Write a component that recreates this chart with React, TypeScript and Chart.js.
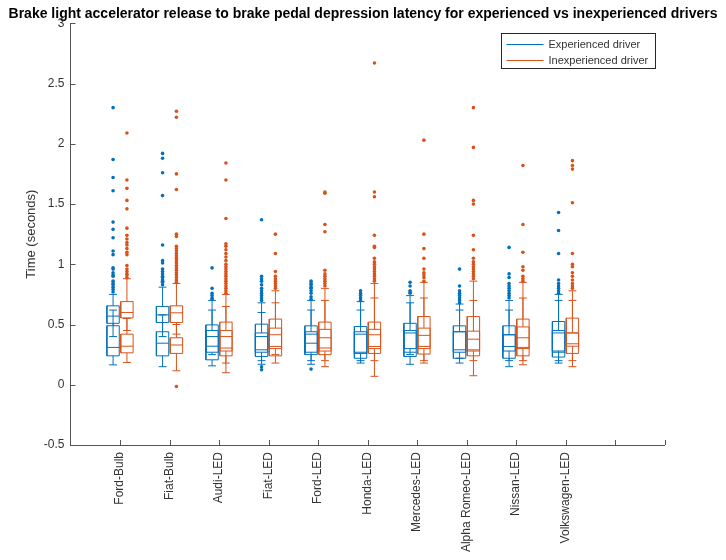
import React, { useEffect, useRef } from 'react';
import { Chart, registerables } from 'chart.js';
Chart.register(...registerables);

const categories = ['Ford-Bulb', 'Fiat-Bulb', 'Audi-LED', 'Fiat-LED', 'Ford-LED', 'Honda-LED', 'Mercedes-LED', 'Alpha Romeo-LED', 'Nissan-LED', 'Volkswagen-LED'];
const yTickValues = [-0.5, 0, 0.5, 1, 1.5, 2, 2.5, 3];
const seriesNames = ['Experienced driver', 'Inexperienced driver'];

// [lower whisker, q1, median, q3, upper whisker]
const experiencedLowBox = [
  [0.165, 0.24, 0.31, 0.49, 0.62], [0.15, 0.24, 0.345, 0.44, 0.58], [0.157, 0.207, 0.32, 0.45, 0.62],
  [0.17, 0.235, 0.29, 0.43, 0.6], [0.17, 0.25, 0.345, 0.44, 0.62], [0.18, 0.22, 0.27, 0.44, 0.62],
  [0.17, 0.235, 0.27, 0.45, 0.68], [0.18, 0.22, 0.29, 0.44, 0.62], [0.15, 0.22, 0.318, 0.415, 0.62],
  [0.18, 0.23, 0.27, 0.45, 0.7],
];
const experiencedHighBox = [
  [0.4, 0.51, 0.57, 0.655, 0.75], [0.4, 0.517, 0.58, 0.65, 0.81], [0.25, 0.27, 0.4, 0.497, 0.7],
  [0.2, 0.27, 0.4, 0.503, 0.68], [0.2, 0.27, 0.42, 0.489, 0.7], [0.2, 0.26, 0.42, 0.483, 0.69],
  [0.25, 0.3, 0.43, 0.51, 0.74], [0.22, 0.27, 0.44, 0.489, 0.67], [0.2, 0.28, 0.415, 0.489, 0.7],
  [0.2, 0.28, 0.43, 0.525, 0.75],
];
const inexperiencedLowBox = [
  [0.185, 0.265, 0.32, 0.42, 0.55], [0.116, 0.26, 0.33, 0.39, 0.5], [0.1, 0.24, 0.305, 0.45, 0.65],
  [0.18, 0.24, 0.318, 0.47, 0.68], [0.15, 0.25, 0.305, 0.46, 0.7], [0.07, 0.26, 0.318, 0.46, 0.72],
  [0.18, 0.255, 0.318, 0.47, 0.72], [0.075, 0.24, 0.29, 0.445, 0.7], [0.166, 0.24, 0.31, 0.48, 0.72],
  [0.15, 0.26, 0.34, 0.43, 0.7],
];
const inexperiencedHighBox = [
  [0.45, 0.555, 0.6, 0.69, 0.88], [0.42, 0.517, 0.597, 0.655, 0.84], [0.18, 0.28, 0.4, 0.52, 0.75],
  [0.25, 0.3, 0.415, 0.545, 0.78], [0.2, 0.28, 0.39, 0.52, 0.8], [0.2, 0.3, 0.415, 0.52, 0.84],
  [0.2, 0.3, 0.41, 0.566, 0.85], [0.2, 0.28, 0.378, 0.566, 0.86], [0.2, 0.3, 0.39, 0.545, 0.85],
  [0.2, 0.32, 0.43, 0.553, 0.78],
];

const experiencedOutliers = [
  [2.3, 1.87, 1.72, 1.61, 1.35, 1.29, 1.22, 1.11, 1.08, 0.97, 0.96, 0.93, 0.91, 0.9, 0.86, 0.84, 0.83, 0.81, 0.79, 0.77],
  [1.92, 1.88, 1.76, 1.57, 1.16, 1.03, 1.01, 0.96, 0.94, 0.92, 0.9, 0.89, 0.87, 0.86, 0.85, 0.83],
  [0.97, 0.8, 0.76, 0.74, 0.72, 0.71],
  [1.37, 0.9, 0.88, 0.86, 0.83, 0.8, 0.78, 0.76, 0.74, 0.72, 0.7, 0.15, 0.125],
  [0.86, 0.84, 0.83, 0.81, 0.8, 0.78, 0.76, 0.73, 0.71, 0.13],
  [0.78, 0.76, 0.74, 0.72, 0.7],
  [0.85, 0.82, 0.78, 0.77, 0.76],
  [0.96, 0.82, 0.78, 0.76, 0.74, 0.72, 0.7, 0.68],
  [1.14, 0.92, 0.89, 0.84, 0.82, 0.8, 0.78, 0.76, 0.74, 0.72],
  [1.43, 1.28, 1.09, 0.87, 0.84, 0.82, 0.8, 0.78, 0.76],
];
const inexperiencedOutliers = [
  [2.09, 1.7, 1.63, 1.53, 1.46, 1.3, 1.24, 1.21, 1.18, 1.16, 1.13, 1.1, 1.08, 0.99, 0.96, 0.94, 0.92, 0.91, 0.89],
  [2.27, 2.22, 1.75, 1.62, 1.25, 1.23, 1.15, 1.13, 1.11, 1.09, 1.07, 1.05, 1.03, 1.01, 0.99, 0.97, 0.95, 0.93, 0.91, 0.89, 0.87, 0.85, -0.015],
  [1.84, 1.7, 1.38, 1.17, 1.15, 1.12, 1.09, 1.06, 1.03, 1.0, 0.98, 0.96, 0.94, 0.92, 0.9, 0.88, 0.86, 0.84, 0.82, 0.8, 0.78, 0.76],
  [1.25, 1.09, 0.94, 0.9, 0.88, 0.86, 0.84, 0.82, 0.8],
  [1.6, 1.59, 1.33, 1.27, 0.95, 0.92, 0.9, 0.88, 0.86, 0.84, 0.82],
  [2.67, 1.6, 1.56, 1.24, 1.15, 1.14, 1.05, 1.02, 1.0, 0.98, 0.96, 0.94, 0.92, 0.9, 0.88, 0.86],
  [2.03, 1.25, 1.13, 1.05, 0.96, 0.93, 0.91, 0.89, 0.86],
  [2.3, 1.97, 1.53, 1.5, 1.24, 1.12, 1.05, 1.02, 1.0, 0.98, 0.96, 0.94, 0.92, 0.9, 0.88],
  [1.82, 1.33, 1.1, 0.98, 0.95, 0.9, 0.88, 0.86],
  [1.86, 1.82, 1.79, 1.51, 1.09, 1.0, 0.98, 0.93, 0.9, 0.87, 0.84, 0.82, 0.8],
];

const BLUE = '#0072BD';
const ORANGE = '#D95319';
const AXIS = '#555555';
const TEXT = '#333333';
const FONT = 'Liberation Sans, Arial, sans-serif';

const OFFSET = 0.14;
const HALF_W = 0.125;
const CAP_W = 0.08;

type P = { x: number; y: number | null };

function boxSegments(s: number[], c: number): P[] {
  const [lo, q1, med, q3, hi] = s;
  const l = c - HALF_W;
  const r = c + HALF_W;
  const gap: P = { x: c, y: null };
  return [
    { x: l, y: q1 }, { x: r, y: q1 }, { x: r, y: q3 }, { x: l, y: q3 }, { x: l, y: q1 }, gap,
    { x: l, y: med }, { x: r, y: med }, gap,
    { x: c, y: lo }, { x: c, y: q1 }, gap,
    { x: c, y: q3 }, { x: c, y: hi }, gap,
    { x: c - CAP_W, y: lo }, { x: c + CAP_W, y: lo }, gap,
    { x: c - CAP_W, y: hi }, { x: c + CAP_W, y: hi }, gap,
  ];
}

function buildLines(a: number[][], b: number[][], off: number): P[] {
  const out: P[] = [];
  categories.forEach((_, i) => {
    const c = i + 1 + off;
    out.push(...boxSegments(a[i], c), ...boxSegments(b[i], c));
  });
  return out;
}

function buildPoints(o: number[][], off: number): P[] {
  const out: P[] = [];
  o.forEach((vals, i) => vals.forEach((v) => out.push({ x: i + 1 + off, y: v })));
  return out;
}

const decorPlugin = {
  id: 'decor',
  afterDraw(chart: any) {
    const { ctx, chartArea, scales } = chart;
    const xs = scales.x;
    const ys = scales.y;
    ctx.save();
    ctx.strokeStyle = AXIS;
    ctx.lineWidth = 1;
    ctx.beginPath();
    for (let v = 1; v <= 12; v++) {
      const px = Math.round(xs.getPixelForValue(v)) + 0.5;
      ctx.moveTo(px, chartArea.bottom);
      ctx.lineTo(px, chartArea.bottom - 5);
    }
    yTickValues.forEach((v) => {
      const py = Math.round(ys.getPixelForValue(v)) + 0.5;
      ctx.moveTo(chartArea.left, py);
      ctx.lineTo(chartArea.left + 5, py);
    });
    ctx.stroke();

    // legend (MATLAB style, northeast inside axes)
    const lw = 154;
    const lh = 35;
    const lx = Math.round(chartArea.right - 10 - lw) + 0.5;
    const ly = Math.round(chartArea.top + 10) + 0.5;
    ctx.fillStyle = '#ffffff';
    ctx.fillRect(lx, ly, lw, lh);
    ctx.strokeStyle = '#262626';
    ctx.strokeRect(lx, ly, lw, lh);
    const colors = [BLUE, ORANGE];
    ctx.font = `11px ${FONT}`;
    ctx.textBaseline = 'middle';
    ctx.textAlign = 'left';
    seriesNames.forEach((name, i) => {
      const yy = Math.round(ly + 10 + i * 16) + 0.5;
      ctx.strokeStyle = colors[i];
      ctx.beginPath();
      ctx.moveTo(lx + 5, yy);
      ctx.lineTo(lx + 42, yy);
      ctx.stroke();
      ctx.fillStyle = TEXT;
      ctx.fillText(name, lx + 47, yy);
    });
    ctx.restore();
  },
};

export default function App() {
  const ref = useRef<HTMLCanvasElement | null>(null);
  useEffect(() => {
    if (!ref.current) return;
    const chart = new Chart(ref.current, {
      type: 'scatter',
      data: {
        datasets: [
          {
            label: 'exp-boxes',
            type: 'line',
            data: buildLines(experiencedLowBox, experiencedHighBox, -OFFSET) as any,
            borderColor: BLUE,
            borderWidth: 1,
            pointRadius: 0,
            showLine: true,
            spanGaps: false,
            fill: false,
          },
          {
            label: 'inexp-boxes',
            type: 'line',
            data: buildLines(inexperiencedLowBox, inexperiencedHighBox, OFFSET) as any,
            borderColor: ORANGE,
            borderWidth: 1,
            pointRadius: 0,
            showLine: true,
            spanGaps: false,
            fill: false,
          },
          {
            label: seriesNames[0],
            data: buildPoints(experiencedOutliers, -OFFSET) as any,
            backgroundColor: BLUE,
            borderColor: BLUE,
            pointRadius: 1.8,
            borderWidth: 0,
          },
          {
            label: seriesNames[1],
            data: buildPoints(inexperiencedOutliers, OFFSET) as any,
            backgroundColor: ORANGE,
            borderColor: ORANGE,
            pointRadius: 1.8,
            borderWidth: 0,
          },
        ],
      },
      options: {
        responsive: false,
        animation: false,
        devicePixelRatio: 1,
        layout: { padding: 0 },
        plugins: {
          legend: { display: false },
          tooltip: { enabled: false },
          title: {
            display: true,
            text: 'Brake light accelerator release to brake pedal depression latency for experienced vs inexperienced drivers',
            color: '#000000',
            font: { family: FONT, size: 14, weight: 'bold' },
            padding: { top: 6, bottom: 0.5 },
          },
        },
        scales: {
          x: {
            type: 'linear',
            min: 0,
            max: 12,
            afterFit: (s: any) => { s.height = 115; },
            afterBuildTicks: (s: any) => {
              const t = [];
              for (let v = 0; v <= 12; v++) t.push({ value: v });
              s.ticks = t;
            },
            ticks: {
              autoSkip: false,
              minRotation: 90,
              maxRotation: 90,
              padding: 7,
              color: TEXT,
              font: { family: FONT, size: 12 },
              callback: (v: any) => categories[Number(v) - 1] ?? '',
            },
            grid: { drawOnChartArea: false, drawTicks: false },
            border: { display: true, color: AXIS, width: 1 },
          },
          y: {
            type: 'linear',
            min: -0.5,
            max: 3,
            afterFit: (s: any) => { s.width = 70.5; },
            afterBuildTicks: (s: any) => { s.ticks = yTickValues.map((v) => ({ value: v })); },
            ticks: {
              padding: 6,
              color: TEXT,
              font: { family: FONT, size: 12 },
              callback: (v: any) => String(v),
            },
            title: {
              display: true,
              text: 'Time (seconds)',
              color: TEXT,
              font: { family: FONT, size: 13 },
              padding: { top: 24, bottom: 0 },
            },
            grid: { drawOnChartArea: false, drawTicks: false },
            border: { display: true, color: AXIS, width: 1 },
          },
          yRightSpace: {
            type: 'linear',
            position: 'right',
            min: -0.5,
            max: 3,
            afterFit: (s: any) => { s.width = 61.5; },
            ticks: { display: false },
            grid: { display: false, drawOnChartArea: false, drawTicks: false },
            border: { display: false },
          },
        },
      },
      plugins: [decorPlugin],
    } as any);
    return () => chart.destroy();
  }, []);
  return (
    <canvas
      ref={ref}
      width={726}
      height={560}
      style={{ position: 'fixed', left: 0, top: 0, width: 726, height: 560, background: '#ffffff' }}
    />
  );
}
